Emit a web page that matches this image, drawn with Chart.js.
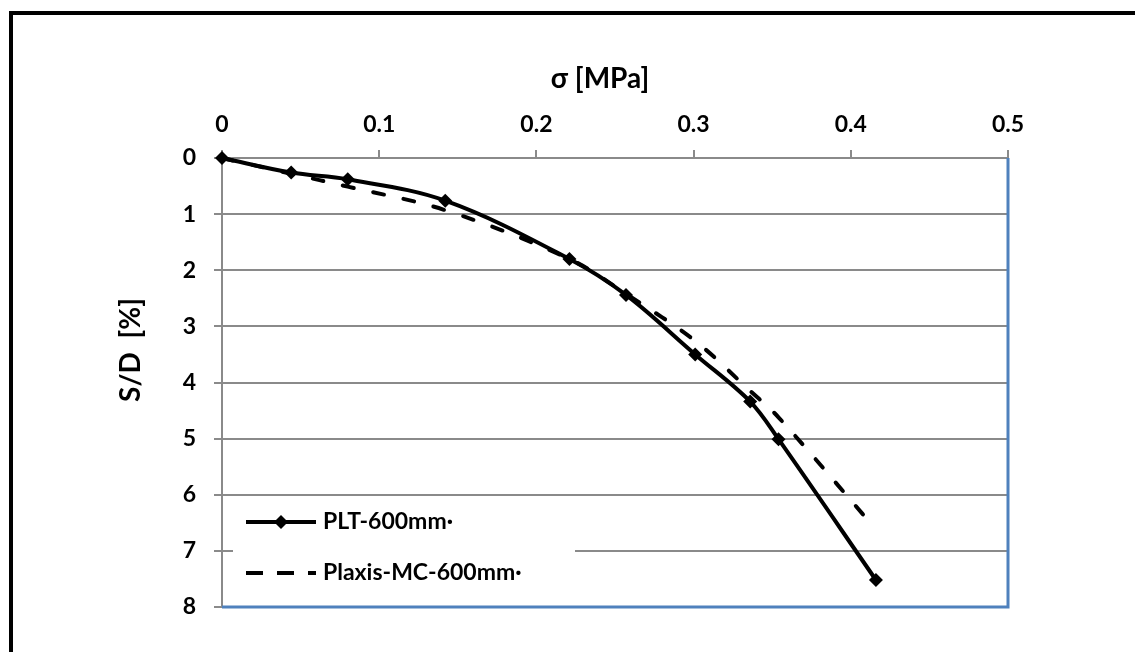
<!DOCTYPE html>
<html lang="en">
<head>
  <meta charset="UTF-8">
  <title>PLT vs Plaxis</title>
  <style>
    body {
      margin: 0;
      background-color: white;
      overflow: hidden;
    }
    .frame {
      position: absolute;
      left: 9px;
      top: 11px;
      width: 1200px;
      height: 700px;
      border-left: 4px solid black;
      border-top: 4px solid black;
    }
    #chart {
      position: absolute;
      left: 0;
      top: 0;
    }
  </style>
  <script src="https://cdn.jsdelivr.net/npm/chart.js"></script>
</head>
<body>
  <div class="frame"></div>
  <canvas id="chart" width="1135" height="652"></canvas>

  <script>
    // PLT-600mm (measured, with markers)
    const stressPLT = [0, 0.044, 0.08, 0.142, 0.221, 0.257, 0.301, 0.336, 0.354, 0.416];
    const sdPLT = [0, 0.26, 0.38, 0.76, 1.80, 2.44, 3.50, 4.34, 5.01, 7.52];

    // Plaxis-MC-600mm (dashed curve)
    const stressPlaxis = [0, 0.044, 0.08, 0.142, 0.221, 0.257, 0.301, 0.336, 0.354, 0.413];
    const sdPlaxis = [0, 0.28, 0.51, 0.93, 1.80, 2.42, 3.26, 4.15, 4.62, 6.52];

    const xTickLabels = ['0', '0.1', '0.2', '0.3', '0.4', '0.5'];
    const yTickLabels = ['0', '1', '2', '3', '4', '5', '6', '7', '8'];

    const xTitle = 'σ [MPa]';
    const yTitle = 'S/D  [%]';

    const FONT = 'Lato';
    const gridGray = '#8a8a8a';

    const toPoints = (xs, ys) => xs.map((x, i) => ({ x: x, y: ys[i] }));

    // blue border on right and bottom of the plot area
    const plotBorder = {
      id: 'plotBorder',
      beforeDatasetsDraw(chart) {
        const { ctx, chartArea: a } = chart;
        ctx.save();
        ctx.strokeStyle = '#4F81BD';
        ctx.lineWidth = 3;
        ctx.beginPath();
        ctx.moveTo(a.left, a.bottom);
        ctx.lineTo(a.right, a.bottom);
        ctx.lineTo(a.right, a.top);
        ctx.stroke();
        ctx.restore();
      }
    };

    // axis titles placed like the original
    const axisTitles = {
      id: 'axisTitles',
      afterDraw(chart) {
        const ctx = chart.ctx;
        ctx.save();
        ctx.fillStyle = 'black';
        ctx.font = 'bold 28px ' + FONT;
        ctx.textAlign = 'center';
        ctx.textBaseline = 'middle';
        ctx.fillText(xTitle, 600, 79);
        ctx.translate(131, 350);
        ctx.rotate(-Math.PI / 2);
        ctx.fillText(yTitle, 0, 0);
        ctx.restore();
      }
    };

    // legend box inside the plot, lower left
    const insideLegend = {
      id: 'insideLegend',
      afterDraw(chart) {
        const ctx = chart.ctx;
        const ds = chart.data.datasets;
        ctx.save();
        ctx.fillStyle = 'white';
        ctx.fillRect(233, 498, 342, 107);

        ctx.strokeStyle = 'black';
        ctx.lineWidth = 4;
        // solid line with diamond
        ctx.beginPath();
        ctx.moveTo(246, 522);
        ctx.lineTo(316, 522);
        ctx.stroke();
        ctx.fillStyle = 'black';
        ctx.beginPath();
        ctx.moveTo(281, 515);
        ctx.lineTo(288, 522);
        ctx.lineTo(281, 529);
        ctx.lineTo(274, 522);
        ctx.closePath();
        ctx.fill();
        // dashed line
        ctx.setLineDash([17, 14]);
        ctx.beginPath();
        ctx.moveTo(246, 573);
        ctx.lineTo(316, 573);
        ctx.stroke();
        ctx.setLineDash([]);

        ctx.font = 'bold 23px ' + FONT;
        ctx.textAlign = 'left';
        ctx.textBaseline = 'middle';
        ctx.fillText(ds[0].label, 323, 522);
        ctx.fillText(ds[1].label, 323, 573);
        ctx.restore();
      }
    };

    const ctx = document.getElementById('chart').getContext('2d');
    const chart = new Chart(ctx, {
      type: 'line',
      data: {
        datasets: [{
          label: 'PLT-600mm·',
          data: toPoints(stressPLT, sdPLT),
          borderColor: 'black',
          backgroundColor: 'black',
          borderWidth: 4,
          pointStyle: 'rectRot',
          pointRadius: 7,
          pointBorderWidth: 0,
          tension: 0.35,
          clip: false
        }, {
          label: 'Plaxis-MC-600mm·',
          data: toPoints(stressPlaxis, sdPlaxis),
          borderColor: 'black',
          borderWidth: 4,
          borderDash: [11, 20],
          borderCapStyle: 'round',
          pointRadius: 0,
          tension: 0.35,
          clip: false
        }]
      },
      options: {
        responsive: false,
        animation: false,
        layout: {
          padding: { left: 0, top: 0, right: 127, bottom: 45 }
        },
        plugins: {
          legend: { display: false },
          tooltip: { enabled: false }
        },
        scales: {
          x: {
            type: 'linear',
            position: 'top',
            min: 0,
            max: 0.5,
            afterFit: (s) => { s.height = 158; },
            ticks: {
              stepSize: 0.1,
              padding: 12,
              color: 'black',
              font: { family: FONT, size: 23, weight: 'bold' },
              callback: (v) => xTickLabels[Math.round(v * 10)]
            },
            grid: {
              drawOnChartArea: false,
              drawTicks: true,
              tickLength: 8,
              color: gridGray,
              lineWidth: 2
            },
            border: { display: true, color: gridGray, width: 2 }
          },
          y: {
            reverse: true,
            min: 0,
            max: 8,
            afterFit: (s) => { s.width = 222; },
            ticks: {
              stepSize: 1,
              padding: 18,
              color: 'black',
              font: { family: FONT, size: 23, weight: 'bold' },
              callback: (v) => yTickLabels[v]
            },
            grid: {
              color: gridGray,
              lineWidth: 2,
              tickLength: 8
            },
            border: { display: true, color: gridGray, width: 2 }
          }
        }
      },
      plugins: [plotBorder, axisTitles, insideLegend]
    });
  </script>
</body>
</html>
